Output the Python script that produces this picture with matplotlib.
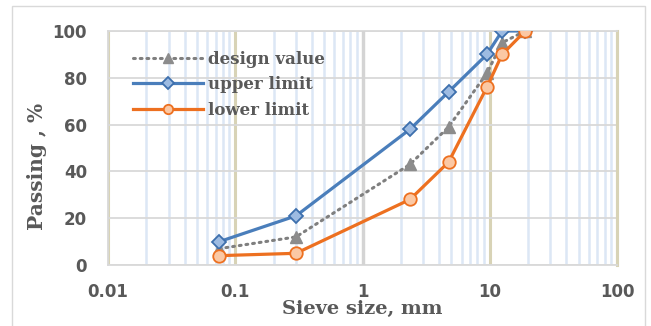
import matplotlib
matplotlib.use("Agg")
import matplotlib.pyplot as plt
from matplotlib.patches import Rectangle
from matplotlib.ticker import LogLocator, NullFormatter

# Sieve sizes (mm) and percent passing
sieve_mm = [0.075, 0.3, 2.36, 4.75, 9.5, 12.5, 19]
design_value = [7, 12, 43, 59, 82, 95, 100]
upper_limit = [10, 21, 58, 74, 90, 100, 100]
lower_limit = [4, 5, 28, 44, 76, 90, 100]

x_ticks = [0.01, 0.1, 1, 10, 100]
x_tick_labels = ["0.01", "0.1", "1", "10", "100"]
y_ticks = [0, 20, 40, 60, 80, 100]

fig = plt.figure(figsize=(6.51, 3.26), dpi=100)
ax = fig.add_axes([0.1659, 0.1871, 0.9478 - 0.1659, 0.9049 - 0.1871])

# outer chart frame
fig.patches.append(Rectangle((12 / 651, -0.05), (645 - 12) / 651, 1 - 6 / 326 + 0.05,
                             transform=fig.transFigure, fill=False,
                             edgecolor="#d9d9d9", lw=1.0, zorder=0))

ax.set_xscale("log")
ax.set_xlim(0.01, 100)
ax.set_ylim(0, 100)

# gridlines
ax.xaxis.set_minor_locator(LogLocator(base=10, subs=range(2, 10)))
ax.xaxis.set_minor_formatter(NullFormatter())
ax.grid(which="minor", axis="x", color="#dce7f5", lw=1.8)
ax.grid(which="major", axis="x", color="#d8d3b6", lw=2.2)
ax.grid(which="major", axis="y", color="#d9d9d9", lw=1.3)
ax.axvline(1, color="#d4d4d4", lw=2.4, zorder=2.6)

ax.set_xticks(x_ticks)
ax.set_xticklabels(x_tick_labels)
ax.set_yticks(y_ticks)
ax.tick_params(which="both", length=0)
ax.tick_params(axis="x", pad=13)
ax.tick_params(axis="y", pad=15)
for lab in ax.get_xticklabels() + ax.get_yticklabels():
    lab.set_fontfamily("DejaVu Sans")
    lab.set_fontweight("bold")
    lab.set_fontsize(12)
    lab.set_color("#595959")

for side in ["left", "bottom", "top"]:
    ax.spines[side].set_color("#d9d9d9")
    ax.spines[side].set_linewidth(1.3)
ax.spines["right"].set_color("#d8d3b6")
ax.spines["right"].set_linewidth(2.2)

ax.plot(sieve_mm, design_value, linestyle=(0, (0.6, 1.6)), color="#7f7f7f", lw=2.2,
        marker="^", markersize=9, markerfacecolor="#8c8c8c", markeredgecolor="#8c8c8c",
        dash_capstyle="round", label="design value", zorder=3)
ax.plot(sieve_mm, upper_limit, color="#4a7ebb", lw=2.3,
        marker="D", markersize=7.5, markerfacecolor="#9dbbe2", markeredgecolor="#3d6fad",
        markeredgewidth=1.3, label="upper limit", zorder=4)
ax.plot(sieve_mm, lower_limit, color="#ed7020", lw=2.3,
        marker="o", markersize=9, markerfacecolor="#fbc8a4", markeredgecolor="#ed7020",
        markeredgewidth=1.3, label="lower limit", zorder=5)

ax.set_xlabel("Sieve size, mm", fontfamily="DejaVu Serif", fontweight="bold",
              fontsize=14, color="#595959", labelpad=-1)
ax.set_ylabel("Passing , %", fontfamily="DejaVu Serif", fontweight="bold",
              fontsize=14.5, color="#595959")
ax.yaxis.set_label_coords(-0.12, 0.42)

leg = ax.legend(loc="upper left", bbox_to_anchor=(0.027, 0.965), frameon=False,
                handlelength=4.2, handletextpad=0.25, labelspacing=0.5, markerscale=0.75,
                borderaxespad=0.3,
                prop={"family": "DejaVu Serif", "weight": "bold", "size": 12})
for t in leg.get_texts():
    t.set_color("#595959")

fig.savefig("out.png", dpi=100)
